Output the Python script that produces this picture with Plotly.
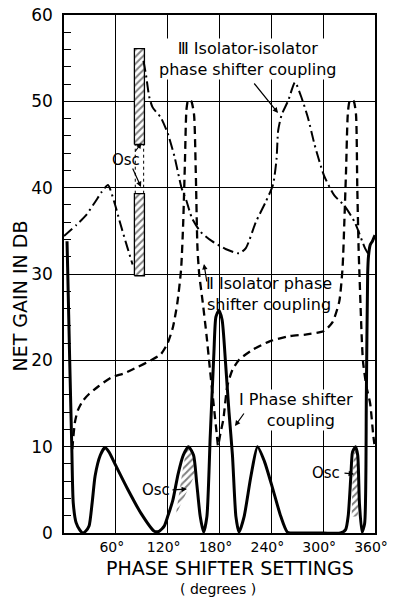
import plotly.graph_objects as go

# ---------------- data (phase shifter setting in degrees, net gain in dB) ----------------
# Curve I : phase shifter coupling (solid)
c1_deg = [3.5, 4.2, 6.6, 9.0, 10.7, 14, 18, 21.7, 25, 29, 32.6, 36, 42, 47.3, 52, 60, 73.6, 89,
          104.5, 110, 116, 120, 126, 132, 138, 144, 150, 153.5, 157.7, 161.6, 165.4, 169.3, 173.5,
          175.8, 179.2, 183, 187, 191, 195, 199, 202.6, 208.5, 216.4, 224, 232, 242, 251, 258.6,
          270, 300, 320, 326, 329, 332, 334, 337.5, 340, 342, 345, 348, 350, 351.5, 352.5, 354.5,
          357, 360]
c1_db = [33.8, 30.8, 20, 10, 3.5, 1.2, 0.4, 0.0, 0.2, 0.8, 3.5, 6.6, 9.0, 9.9, 9.4, 7.8, 5.1, 2.3,
         0.2, 0.2, 0.8, 1.9, 3.8, 6.8, 9.0, 10, 9.0, 5.9, 1.9, 0.1, 1.9, 11.3, 20.8,
         25, 25.8, 24.7, 19.7, 14, 9.0, 1.9, 0.1, 1.9, 6.6, 10, 8.3, 5.0, 1.9, 0.1,
         0.0, 0.0, 0.0, 0.4, 2.0, 6.5, 9.4, 10, 9.0, 3.4, 0.1, 1.1, 16, 30, 32.1, 33.4,
         33.8, 34.5]

# Curve II : isolator phase shifter coupling (dashed)
c2_deg = [9.6, 12.6, 16, 21.7, 29, 40, 54.5, 69.7, 84.8, 100.6, 112, 120, 126, 131, 135.5, 138,
          140, 141.7, 143.5, 145.5, 147.5, 150.5, 152.5, 154.5, 156.5, 160.5, 165, 169, 173, 177,
          178.3, 181, 184.5, 189, 195, 203, 218, 238, 261, 281, 300.8, 310.7, 318.6, 322.5, 324.5,
          326.5, 328.5, 330.5, 333, 335.5, 338, 339.5, 341, 342, 346, 350, 354.4, 358, 359.3]
c2_db = [9.7, 12.8, 14.2, 15.3, 16.1, 17, 18, 18.5, 19.2, 20, 20.7, 22, 23.8, 26.5, 30.5, 36,
         43, 49, 50.1, 50.2, 50, 48.5, 42, 33, 30, 26.8, 22.9, 18.9, 15.1, 11.3,
         10.1, 11.5, 13.2, 17, 18.9, 20.1, 21.2, 22.2, 22.8, 23, 23.4, 24.4, 26.8, 30.8, 36,
         42, 48.5, 50, 50.2, 50, 48.5, 40, 33, 30, 20, 17, 15, 11.3, 10.3]

# Curve III : isolator-isolator phase shifter coupling (dash-dot); None = break at oscillation
c3_deg = [0, 14.5, 25.4, 36.4, 43.6, 50.9, 58, 65.6, 73.6, 79.4, None,
          92, 95, 98.7, 102.6, 112.2, 120, 127.9, 136, 142, 148, 158, 171.3, 187, 202.6, 210.5,
          222, 233.7, 241.9, 246, 247.9, 251.8, 259.6, 267.4, 274.7, 282.4, 290, 301, 312.9,
          324.7, 336.5, 348.4, 352.4]
c3_db = [34.4, 35.7, 36.8, 38.4, 39.5, 40.3, 38.4, 35.7, 33, 31.1, None,
         54.7, 53, 50.5, 49.3, 48.1, 46.3, 43.6, 40, 38.4, 36.5, 34.9, 33.8, 32.9, 32.4, 33,
         36, 38.4, 40.3, 43.3, 46.6, 48.4, 50.1, 52.2, 50.5, 48.1, 45, 41.4, 39.1,
         37.9, 36, 33, 32.3]

# Oscillation (hatched) regions
osc_a_deg = [81.5, 93.1, 93.1, 81.5, 81.5]
osc_a_hi_db = [45, 45, 56.1, 56.1, 45]
osc_a_lo_db = [29.8, 29.8, 39.3, 39.3, 29.8]
osc_b_deg = [129.5, 133, 137.8, 141.3, 143.7, 147.2, 149.6, 150.8, 129.5]
osc_b_db = [2.1, 4.5, 7.6, 9.5, 9.8, 9.5, 8.4, 6.6, 2.1]
osc_c_deg = [333, 334, 335.7, 337.5, 339.9, 341.2, 341.2, 340, 333]
osc_c_db = [1.9, 6.2, 9.2, 9.9, 9.5, 7.4, 3.9, 1.9, 1.9]

x_ticks = [60, 120, 180, 240, 300, 360]
x_tick_text = ["60°", "120°", "180°", "240°", "300°", "360°"]
y_ticks = [0, 10, 20, 30, 40, 50, 60]

FONT = "DejaVu Sans"
W, H = 395, 597
PL, PR, PT, PB = 64, 375, 15, 533   # plot area in window pixels
ML, MT, MR, MB = PL, PT, W - PR, H - PB


def P(px, py):
    """window pixel -> paper fraction"""
    return (px - PL) / (PR - PL), (PB - py) / (PB - PT)


fig = go.Figure()

hatch = dict(shape="/", fgcolor="black", size=5, solidity=0.4)
for ys in (osc_a_hi_db, osc_a_lo_db):
    fig.add_trace(go.Scatter(x=osc_a_deg, y=ys, mode="lines", fill="toself", fillcolor="white",
                             fillpattern=hatch, line=dict(color="black", width=1.3),
                             hoverinfo="skip", showlegend=False))
for xs, ys in ((osc_b_deg, osc_b_db), (osc_c_deg, osc_c_db)):
    fig.add_trace(go.Scatter(x=xs, y=ys, mode="lines", fill="toself", fillcolor="white",
                             fillpattern=hatch, line=dict(color="black", width=0),
                             hoverinfo="skip", showlegend=False))
# dotted connectors between the two hatched blocks
for xv in (82.5, 92.2):
    fig.add_trace(go.Scatter(x=[xv, xv], y=[osc_a_lo_db[2], osc_a_hi_db[0]], mode="lines",
                             line=dict(color="black", width=1, dash="3px,3px"),
                             hoverinfo="skip", showlegend=False))

fig.add_trace(go.Scatter(x=c3_deg, y=c3_db, mode="lines", connectgaps=False,
                         line=dict(color="black", width=2, dash="11px,4px,2px,4px",
                                   shape="spline", smoothing=0.6),
                         showlegend=False))
fig.add_trace(go.Scatter(x=c2_deg, y=c2_db, mode="lines",
                         line=dict(color="black", width=2.3, dash="8px,5px",
                                   shape="spline", smoothing=0.6),
                         showlegend=False))
fig.add_trace(go.Scatter(x=c1_deg, y=c1_db, mode="lines",
                         line=dict(color="black", width=3, shape="spline", smoothing=0.6),
                         showlegend=False))

annotations = []


def text(s, px, py, size=16, bg=None, angle=0):
    x, y = P(px, py)
    d = dict(text=s, x=x, y=y, xref="paper", yref="paper", showarrow=False,
             xanchor="center", yanchor="middle", textangle=angle,
             font=dict(family=FONT, size=size, color="black"), borderpad=0)
    if bg:
        d["bgcolor"] = bg
    annotations.append(d)


def arrow(tail, tip):
    x, y = P(*tip)
    annotations.append(dict(text="", x=x, y=y, xref="paper", yref="paper", showarrow=True,
                            ax=tail[0] - tip[0], ay=tail[1] - tip[1], arrowhead=2,
                            arrowsize=0.9, arrowwidth=1.2, arrowcolor="black"))


text("Ⅲ Isolator-isolator<br>phase shifter coupling", 248, 59, bg="white")
text("Ⅱ Isolator phase<br>shifter coupling", 269, 294)
text("Ⅰ Phase shifter<br>  coupling", 296, 410, bg="white")
text("Osc", 126, 160, size=15)
text("Osc", 156, 490, size=15)
text("Osc", 326, 473, size=15)

arrow((253, 82), (278, 113))
arrow((207, 283), (204, 264))
arrow((245, 412), (235, 426))
arrow((134, 153), (141.5, 143))
arrow((132, 167), (141, 187))
arrow((171, 490), (187, 489))
arrow((343, 473), (354, 474))

text("NET GAIN IN DB", 19.5, 296, size=19, angle=-90)
text("PHASE SHIFTER SETTINGS", 229.5, 567.5, size=19)
text("( degrees )", 217.5, 588.5, size=14)

fig.update_layout(
    width=W, height=H,
    margin=dict(l=ML, r=MR, t=MT, b=MB, autoexpand=False),
    paper_bgcolor="white", plot_bgcolor="white",
    annotations=annotations,
    xaxis=dict(range=[0, 360], tickvals=x_ticks, ticktext=x_tick_text, showgrid=True,
               gridcolor="black", gridwidth=1, showline=True, linecolor="black", linewidth=1.6,
               mirror=True, ticks="", tickfont=dict(family=FONT, size=14, color="black"),
               ticklabelshift=-4, ticklabeloverflow="allow", zeroline=False),
    yaxis=dict(range=[0, 60], tickvals=y_ticks, showgrid=True, gridcolor="black", gridwidth=1,
               showline=True, linecolor="black", linewidth=1.6, mirror=True,
               ticks="inside", ticklen=7, tickcolor="black", ticklabelstandoff=6,
               ticklabeloverflow="allow",
               minor=dict(dtick=2, ticks="inside", ticklen=7, tickcolor="black", tickwidth=1.2),
               tickfont=dict(family=FONT, size=17, color="black"), zeroline=False),
)

fig.write_html("out.html", config={"displayModeBar": False},
               post_script="document.body.style.margin='0';")
